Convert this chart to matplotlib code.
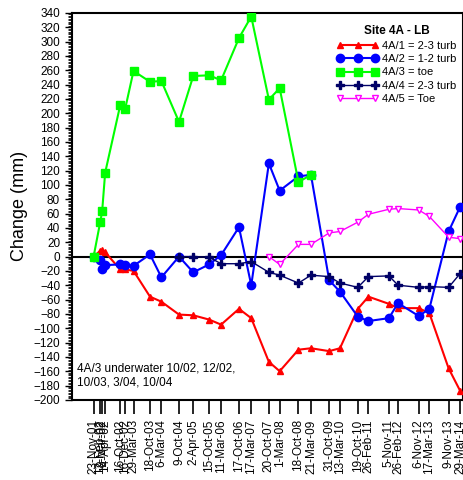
import matplotlib
matplotlib.use('Agg')
import matplotlib.pyplot as plt
import matplotlib.dates as mdates
import numpy as np
import pandas as pd
from matplotlib.ticker import MultipleLocator, FixedLocator

plt.rcParams['font.family'] = ['Liberation Sans', 'DejaVu Sans']

nan = np.nan

dates = ['23-Nov-01', '12-Feb-02', '8-Mar-02', '14-Apr-02', '16-Oct-02', '16-Dec-02',
         '29-Mar-03', '18-Oct-03', '6-Mar-04', '9-Oct-04', '2-Apr-05', '15-Oct-05',
         '11-Mar-06', '17-Oct-06', '17-Mar-07', '20-Oct-07', '1-Mar-08', '18-Oct-08',
         '21-Mar-09', '31-Oct-09', '13-Mar-10', '19-Oct-10', '26-Feb-11', '5-Nov-11',
         '26-Feb-12', '6-Nov-12', '17-Mar-13', '9-Nov-13', '29-Mar-14']

s1 = [0, 8, 9, 6, -18, -18, -20, -56, -63, -81, -82, -88, -95, -73, -86, -147, -160,
      -130, -128, -132, -128, -73, -56, -66, -72, -72, -79, -156, -187]
s2 = [0, -5, -17, -12, -11, -12, -13, 3, -29, 0, -22, -11, 2, 41, -40, 130, 92, 112,
      114, -33, -49, -84, -90, -86, -65, -83, -73, 35, 69]
s3 = [0, 48, 63, 117, 211, 206, 259, 244, 245, 188, 252, 253, 246, 305, 335, 219, 235,
      104, 114, nan, nan, nan, nan, nan, nan, nan, nan, nan, nan]
s4 = [nan] * 9 + [0, 0, -1, -10, -10, -7, -22, -26, -37, -26, -28, -37, -43, -28, -27,
                  -40, -43, -42, -43, -24]
s5 = [nan] * 15 + [0, -11, 17, 17, 33, 35, 48, 59, 66, 67, 65, 56, 27, 25]

names = ['4A/1 = 2-3 turb', '4A/2 = 1-2 turb', '4A/3 = toe', '4A/4 = 2-3 turb', '4A/5 = Toe']

x = pd.to_datetime(dates, format='%d-%b-%y')

fig = plt.figure(figsize=(4.64, 4.8), dpi=100)
ax = fig.add_axes([0.155, 0.167, 0.843, 0.806])

ax.axhline(0, color='black', lw=1.5, zorder=1)

ax.plot(x, s1, color='#ff0000', lw=1.5, marker='^', ms=5, label=names[0], zorder=3)
ax.plot(x, s2, color='#0000ff', lw=1.5, marker='o', ms=6, label=names[1], zorder=3)
ax.plot(x, s3, color='#00ff00', lw=1.5, marker='s', ms=6, label=names[2], zorder=3)
ax.plot(x, s4, color='#000066', lw=1, marker='P', ms=6, label=names[3], zorder=3)
ax.plot(x, s5, color='#ff00ff', lw=1, marker='v', ms=5, mfc='white', mew=1,
        label=names[4], zorder=3)

ax.set_ylim(-200, 340)
ax.set_xlim(pd.Timestamp('2001-03-01'), pd.Timestamp('2014-05-06'))

ax.yaxis.set_major_locator(MultipleLocator(20))
ax.yaxis.set_minor_locator(MultipleLocator(2))
ax.tick_params(axis='y', which='major', direction='out', length=5, width=1, labelsize=8.5)
ax.tick_params(axis='y', which='minor', direction='out', length=3, width=0.6)

ax.xaxis.set_major_locator(FixedLocator(mdates.date2num(x)))
ax.set_xticklabels(dates, rotation=90, fontsize=8.5)
ax.tick_params(axis='x', which='major', direction='out', length=10, width=1.2, pad=4)

for sp in ax.spines.values():
    sp.set_linewidth(1.5)

ax.set_ylabel('Change (mm)', fontsize=13)

leg = ax.legend(loc='upper right', bbox_to_anchor=(1.0, 0.985), frameon=False, fontsize=8,
                numpoints=3, handlelength=3.8, handletextpad=0.3, labelspacing=0.3,
                borderaxespad=0.2, title='Site 4A - LB',
                title_fontproperties={'weight': 'bold', 'size': 8.5})

ax.text(0.012, 0.03, '4A/3 underwater 10/02, 12/02,\n10/03, 3/04, 10/04',
        transform=ax.transAxes, fontsize=8.5, ha='left', va='bottom')

fig.savefig('out.png', dpi=100)
